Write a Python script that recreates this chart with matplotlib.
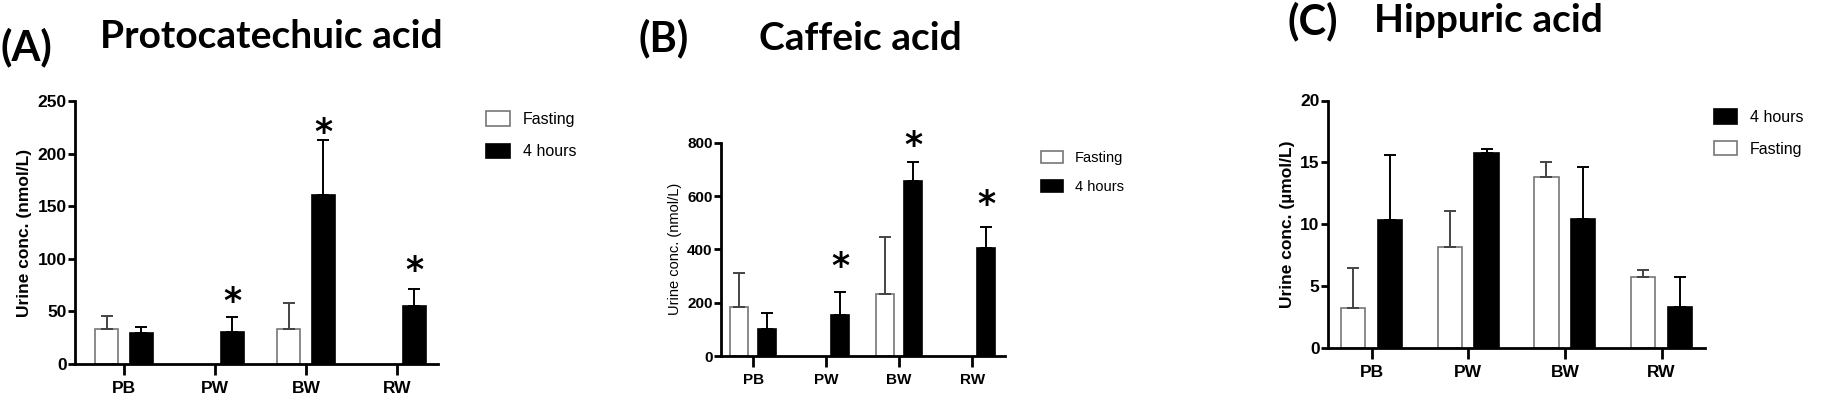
import numpy as np
import matplotlib
matplotlib.use("Agg")
import matplotlib.pyplot as plt

# Daten
groups = ["PB", "PW", "BW", "RW"]

pca_fasting = [33, np.nan, 33, np.nan]
pca_fasting_err = [13, 0, 25, 0]
pca_4h = [29, 30, 161, 55]
pca_4h_err = [6.5, 15, 52, 16]
pca_stars = [None, 64, 225, 94]

caf_fasting = [185, np.nan, 232, np.nan]
caf_fasting_err = [128, 0, 216, 0]
caf_4h = [100, 152, 655, 405]
caf_4h_err = [62, 88, 71, 80]
caf_stars = [None, 353, 809, 588]

hip_fasting = [3.2, 8.2, 13.85, 5.75]
hip_fasting_err = [3.25, 2.9, 1.2, 0.55]
hip_4h = [10.35, 15.75, 10.4, 3.3]
hip_4h_err = [5.25, 0.3, 4.25, 2.4]

W, H = 1826, 399
fig = plt.figure(figsize=(W / 100, H / 100), dpi=100)

label_font = "Liberation Sans"
title_font = "Lato"


def px_axes(left, right, bottom, top):
    return fig.add_axes([left / W, 1 - bottom / H, (right - left) / W, (bottom - top) / H])


def draw_panel(ax, fasting, fasting_err, four, four_err, stars, ymax, ystep,
               ylabel, ylabel_bold, ylabel_size, tick_size, xlim):
    x = np.arange(len(groups))
    off = 0.19
    bw = 0.25
    b_f = ax.bar(x - off, fasting, bw, color="white", edgecolor="#777777", linewidth=1.2)
    b_4 = ax.bar(x + off, four, bw, color="black", edgecolor="black", linewidth=1.2)
    f = np.array(fasting, dtype=float)
    fe = np.array(fasting_err, dtype=float)
    ok = ~np.isnan(f)
    ax.errorbar((x - off)[ok], f[ok], yerr=[np.zeros(ok.sum()), fe[ok]], fmt="none",
                ecolor="#444444", elinewidth=1.4, capsize=4, capthick=1.4)
    ax.errorbar(x + off, four, yerr=[np.zeros(len(four)), four_err], fmt="none",
                ecolor="black", elinewidth=1.4, capsize=4, capthick=1.4)
    if stars is not None:
        for i, s in enumerate(stars):
            if s is not None:
                ax.annotate("*", (x[i] + off, s), xytext=(0, -4), textcoords="offset points",
                            ha="center", va="center", fontsize=25, fontweight="bold",
                            family="DejaVu Sans", annotation_clip=False)
    ax.set_xlim(*xlim)
    ax.set_ylim(0, ymax)
    ax.set_yticks(np.arange(0, ymax + ystep / 2, ystep))
    ax.set_xticks(x)
    ax.set_xticklabels(groups)
    for sp in ["top", "right"]:
        ax.spines[sp].set_visible(False)
    for sp in ["left", "bottom"]:
        ax.spines[sp].set_linewidth(2)
    ax.tick_params(axis="y", length=5, width=2, pad=1, labelsize=tick_size)
    ax.tick_params(axis="x", length=8, width=2, pad=4, labelsize=tick_size)
    for lab in ax.get_xticklabels() + ax.get_yticklabels():
        lab.set_fontweight("bold")
        lab.set_family(label_font)
    ax.set_ylabel(ylabel, fontsize=ylabel_size,
                  fontweight="bold" if ylabel_bold else "normal", family=label_font)
    return b_f, b_4


# (A) Protocatechuic acid
axA = px_axes(75, 438, 364, 101)
fA, hA = draw_panel(axA, pca_fasting, pca_fasting_err, pca_4h, pca_4h_err, pca_stars,
                    250, 50, "Urine conc. (nmol/L)", True, 12.5, 12.5, (-0.54, 3.45))
axA.legend([fA, hA], ["Fasting", "4 hours"], loc="upper left",
           bbox_to_anchor=(472 / W, 1 - 97 / H), bbox_transform=fig.transFigure,
           frameon=False, prop={"family": label_font, "size": 11.5},
           handlelength=1.5, handleheight=1.0, labelspacing=1.05)

# (B) Caffeic acid
axB = px_axes(721, 1005, 356, 142.7)
fB, hB = draw_panel(axB, caf_fasting, caf_fasting_err, caf_4h, caf_4h_err, caf_stars,
                    800, 200, "Urine conc. (nmol/L)", False, 10.5, 11, (-0.44, 3.45))
axB.legend([fB, hB], ["Fasting", "4 hours"], loc="upper left",
           bbox_to_anchor=(1028 / W, 1 - 138 / H), bbox_transform=fig.transFigure,
           frameon=False, prop={"family": label_font, "size": 10.5},
           handlelength=1.5, handleheight=0.9, labelspacing=1.0)

# (C) Hippuric acid
axC = px_axes(1328, 1705, 348, 100.5)
fC, hC = draw_panel(axC, hip_fasting, hip_fasting_err, hip_4h, hip_4h_err, None,
                    20, 5, "Urine conc. (µmol/L)", True, 12.5, 12.5, (-0.45, 3.45))
axC.legend([hC, fC], ["4 hours", "Fasting"], loc="upper left",
           bbox_to_anchor=(1700 / W, 1 - 95 / H), bbox_transform=fig.transFigure,
           frameon=False, prop={"family": label_font, "size": 11.5},
           handlelength=1.4, handleheight=1.0, labelspacing=1.0)

# Titel
def fig_text(xp, yp, s, size):
    fig.text(xp / W, 1 - yp / H, s, fontsize=size, fontweight="bold",
             family=title_font, ha="left", va="center")

fig_text(0, 47, "(A)", 30)
fig_text(100, 36, "Protocatechuic acid", 28)
fig_text(638, 38, "(B)", 30)
fig_text(759, 38, "Caffeic acid", 28)
fig_text(1287, 21, "(C)", 30)
fig_text(1374, 21, "Hippuric acid", 28)

fig.savefig("out.png", dpi=100)
